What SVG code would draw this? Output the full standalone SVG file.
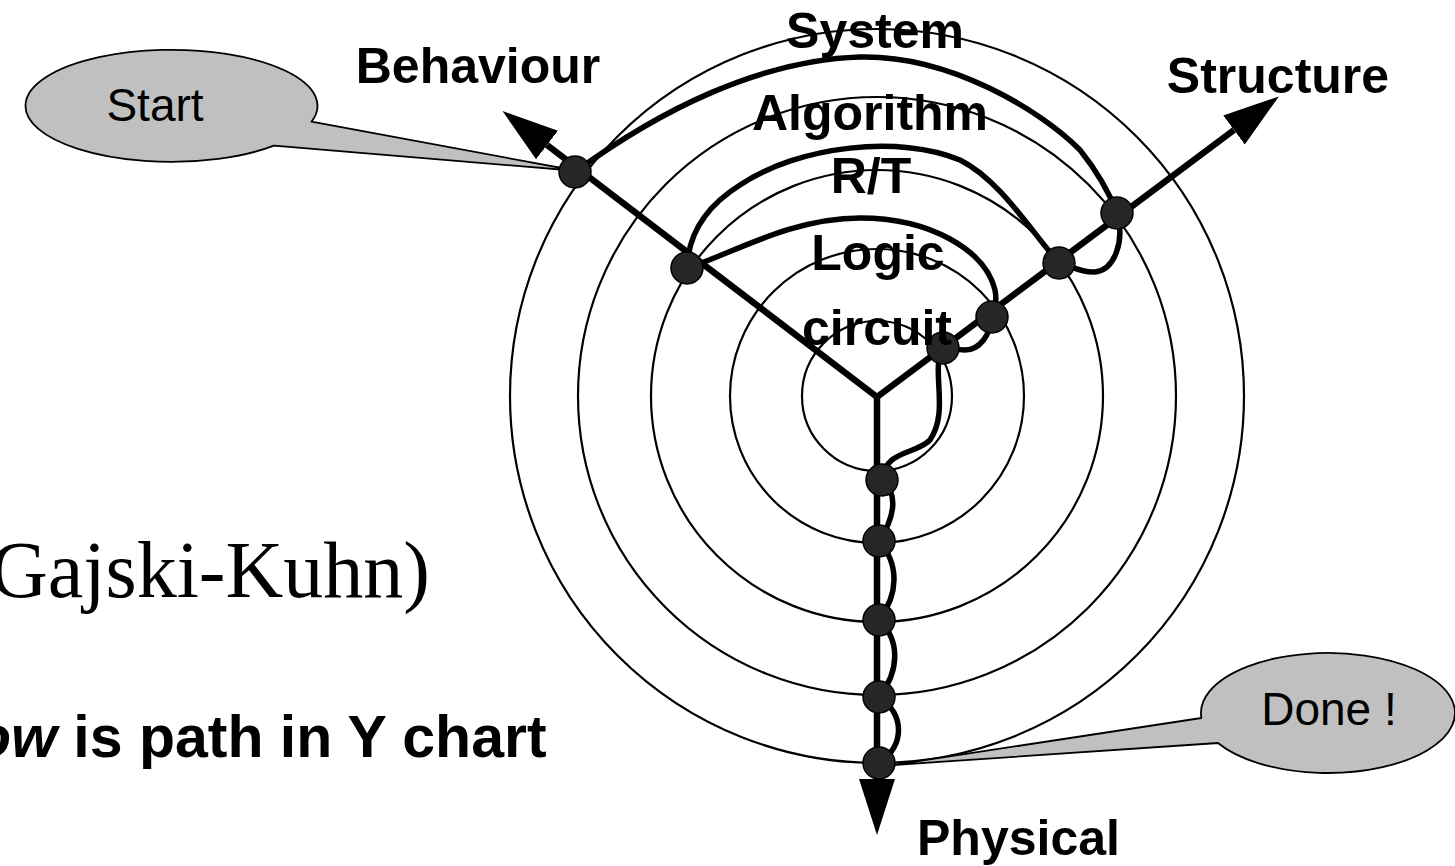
<svg xmlns="http://www.w3.org/2000/svg" width="1455" height="866" viewBox="0 0 1455 866">
  <style>
    .ring { fill: none; stroke: #000; stroke-width: 2.2; }
    .axis { fill: none; stroke: #000; stroke-width: 6.5; }
    .flow { fill: none; stroke: #000; stroke-width: 5.5; stroke-linejoin: round; stroke-linecap: round; }
    .dot { fill: #262626; stroke: #000; stroke-width: 1.5; }
    .callout { fill: #c0c0c0; stroke: #000; stroke-width: 1.8; stroke-linejoin: round; }
    .lbl { font-family: "Liberation Sans", Arial, sans-serif; font-weight: bold; font-size: 50px; fill: #000; }
    .ctxt { font-family: "Liberation Sans", Arial, sans-serif; font-size: 46px; fill: #000; }
  </style>
  <defs>
    <marker id="head" markerUnits="userSpaceOnUse" markerWidth="60" markerHeight="40" viewBox="0 -20 60 40" refX="0" refY="0" orient="auto">
      <path d="M0,-18 L56,0 L0,18 Z" fill="#000"/>
    </marker>
  </defs>
  <rect width="1455" height="866" fill="#fff"/>

  <g id="rings">
    <circle class="ring" cx="877" cy="396" r="367"/>
    <circle class="ring" cx="877" cy="396" r="299"/>
    <circle class="ring" cx="877" cy="396" r="226"/>
    <circle class="ring" cx="877" cy="396" r="147"/>
    <circle class="ring" cx="877" cy="396" r="75"/>
  </g>

  <g id="axes">
    <line class="axis" x1="877" y1="397" x2="547" y2="145" marker-end="url(#head)"/>
    <line class="axis" x1="877" y1="397" x2="1234" y2="130" marker-end="url(#head)"/>
    <line class="axis" x1="877" y1="394" x2="877" y2="779" marker-end="url(#head)"/>
  </g>

  <g id="callout-start">
    <path class="callout" d="M311.5,121.7 L578,171 L274,145.7 A146 56 0 1 1 311.5,121.7 Z"/>
    <text class="ctxt" x="155" y="121" text-anchor="middle">Start</text>
  </g>
  <g id="callout-done">
    <path class="callout" d="M1218,743 L893,765 L1201.4,718 A127 60 0 1 1 1218,743 Z"/>
    <text class="ctxt" x="1329" y="725" text-anchor="middle">Done !</text>
  </g>

  <g id="connectors">
    <path class="flow" d="M575,172 C660,110 760,60 860,57 C950,55 1040,110 1080,150 C1100,175 1112,200 1117,213 C1125,240 1115,270 1095,272 C1080,273 1070,265 1059,263 C1030,230 1000,180 960,160 C900,135 800,145 740,185 C700,210 688,240 687,268 C730,255 790,218 860,218 C930,218 985,250 995,290 C997,300 995,310 992,317 C990,335 980,350 965,350 C955,350 950,348 943,348 C930,370 950,410 930,440 C915,455 885,450 882,480 C900,495 893,520 879,541 C900,565 898,595 879,620 C900,640 900,670 879,697 C905,715 905,745 879,763"/>
  </g>

  <g id="nodes">
    <circle id="n-beh-system" class="dot" cx="575" cy="172" r="16"/>
    <circle id="n-beh-rt" class="dot" cx="687" cy="268" r="16"/>
    <circle id="n-str-alg" class="dot" cx="1117" cy="213" r="16"/>
    <circle id="n-str-rt" class="dot" cx="1059" cy="263" r="16"/>
    <circle id="n-str-logic" class="dot" cx="992" cy="317" r="16"/>
    <circle id="n-str-circuit" class="dot" cx="943" cy="348" r="16"/>
    <circle id="n-phy-1" class="dot" cx="882" cy="480" r="16"/>
    <circle id="n-phy-2" class="dot" cx="879" cy="541" r="16"/>
    <circle id="n-phy-3" class="dot" cx="879" cy="620" r="16"/>
    <circle id="n-phy-4" class="dot" cx="879" cy="697" r="16"/>
    <circle id="n-phy-5" class="dot" cx="879" cy="763" r="16"/>
  </g>

  <g id="labels">
    <text class="lbl" x="478" y="83" text-anchor="middle">Behaviour</text>
    <text class="lbl" x="1278" y="93" text-anchor="middle">Structure</text>
    <text class="lbl" x="917" y="855">Physical</text>
    <text class="lbl" x="875" y="48" text-anchor="middle">System</text>
    <text class="lbl" x="870" y="130" text-anchor="middle">Algorithm</text>
    <text class="lbl" x="871" y="193" text-anchor="middle">R/T</text>
    <text class="lbl" x="878" y="270" text-anchor="middle">Logic</text>
    <text class="lbl" x="877" y="345" text-anchor="middle">circuit</text>
  </g>

  <g id="side-text">
    <text x="-10" y="597" font-family="'Liberation Serif', 'Times New Roman', serif" font-size="80">Gajski-Kuhn)</text>
    <text x="-25" y="757" font-family="'Liberation Sans', Arial, sans-serif" font-weight="bold" font-size="59"><tspan font-style="italic">ow</tspan> is path in Y chart</text>
  </g>
</svg>
